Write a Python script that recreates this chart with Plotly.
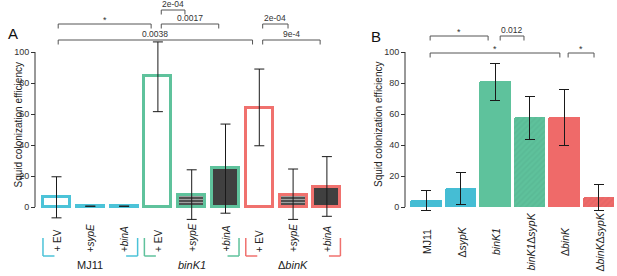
import plotly.graph_objects as go

# ---------------- data ----------------
a_labels = ["+ EV", "+<i>sypE</i>", "+<i>binA</i>",
            "+ EV", "+<i>sypE</i>", "+<i>binA</i>",
            "+ EV", "+<i>sypE</i>", "+<i>binA</i>"]
a_groups = ["MJ11", "<i>binK1</i>", "Δ<i>binK</i>"]
a_values = [6.5, 0.5, 0.5, 84.5, 8, 25, 64, 8, 13]
a_err_plus = [13, 0, 0, 22, 16, 28.5, 25, 16.5, 19.5]
a_err_minus = [13.5, 0, 0, 23, 16, 29, 24.5, 16, 19]
a_fill = ["white", "line", "line", "white", "dots", "dark", "white", "dots", "dark"]

b_labels = ["MJ11", "Δ<i>sypK</i>", "<i>binK1</i>", "<i>binK1</i>Δ<i>sypK</i>",
            "Δ<i>binK</i>", "Δ<i>binK</i>Δ<i>sypK</i>"]
b_values = [4.5, 12, 81, 58, 58, 6.5]
b_err_plus = [6, 10, 11.5, 13.5, 18, 8]
b_err_minus = [6.5, 10.5, 12.5, 14.5, 18.5, 8.5]
b_hatch = [False, False, False, True, False, True]

a_sig = [  # (i0, i1, level, label)
    (0.05, 2.8, 1, "*"),
    (3.1, 3.8, 0, "2e-04"),
    (3.1, 4.8, 1, "0.0017"),
    (0.05, 5.8, 2, "0.0038"),
    (6.1, 6.85, 1, "2e-04"),
    (6.1, 7.8, 2, "9e-4"),
]
b_sig = [
    (0.12, 1.8, 0, "*"),
    (2.15, 2.84, 0, "0.012"),
    (0.12, 3.88, 1, "*"),
    (4.12, 4.87, 1, "*"),
]

# ---------------- styling / geometry ----------------
W, H = 617, 276
CYAN, GREEN, RED = "#4CC3D8", "#5FC29C", "#F0716E"
CYAN_B, GREEN_B, RED_B = "#45BDD4", "#5EC29C", "#EF6A69"
DARK = "#404040"
GRAY = "#555555"
FONT = "Arial, Liberation Sans, Helvetica, sans-serif"
Y0PX, PPU = 207, 1.55      # pixel of y=0 and pixels per unit
XA0, XA_STEP = 56.5, 33.8  # panel A bar positions (px)
XB0, XB_STEP = 426.0, 34.5
SPLIT = 365


def yv(p):
    return (Y0PX - p) / PPU


def xa(p):
    return (p - XA0) / XA_STEP


def xb(p):
    return (p - XB0) / XB_STEP


group_colors = [CYAN, GREEN, RED]
a_colors = [group_colors[i // 3] for i in range(9)]

fig = go.Figure()

# Panel A bars
for i in range(9):
    kind = a_fill[i]
    marker = dict(line=dict(color=a_colors[i], width=3))
    if kind == "white":
        marker["color"] = "white"
    elif kind == "line":
        marker["color"] = a_colors[i]
    elif kind == "dark":
        marker["color"] = DARK
    else:
        marker["color"] = DARK
        marker["pattern"] = dict(shape="-", fgcolor="white", bgcolor=DARK,
                                 size=3, solidity=0.45)
    fig.add_trace(go.Bar(
        x=[i], y=[a_values[i]], width=0.8, marker=marker,
        error_y=dict(type="data", symmetric=False, array=[a_err_plus[i]],
                     arrayminus=[a_err_minus[i]], color="#1a1a1a",
                     thickness=1, width=5),
        xaxis="x", yaxis="y", showlegend=False, hoverinfo="skip"))

# Panel B bars
b_colors = [CYAN_B, CYAN_B, GREEN_B, GREEN_B, RED_B, RED_B]
for i in range(6):
    marker = dict(color=b_colors[i], line=dict(width=0), cornerradius=2)
    if b_hatch[i]:
        marker["pattern"] = dict(shape="/", fgcolor="rgba(0,0,0,0.08)",
                                 bgcolor=b_colors[i], size=4, solidity=0.4)
    fig.add_trace(go.Bar(
        x=[i], y=[b_values[i]], width=0.9, marker=marker,
        error_y=dict(type="data", symmetric=False, array=[b_err_plus[i]],
                     arrayminus=[b_err_minus[i]], color="#1a1a1a",
                     thickness=1, width=5),
        xaxis="x2", yaxis="y2", showlegend=False, hoverinfo="skip"))

shapes = []
annotations = []

# y axis lines (0..100)
for xpx, yref in [(35, "y"), (405, "y2")]:
    shapes.append(dict(type="line", xref="paper", yref=yref,
                       x0=xpx / W, x1=xpx / W, y0=0, y1=100,
                       line=dict(color="#333", width=1)))

# significance brackets
A_LEVEL_PX = [10, 24, 40]
B_LEVEL_PX = [36, 53]
for sig, xref, yref, levels in [(a_sig, "x", "y", A_LEVEL_PX),
                                 (b_sig, "x2", "y2", B_LEVEL_PX)]:
    for i0, i1, lvl, lab in sig:
        yl = levels[lvl]
        ytop, ybot = yv(yl), yv(yl + 4.5)
        for (x0, y0, x1, y1) in [(i0, ytop, i1, ytop), (i0, ytop, i0, ybot),
                                 (i1, ytop, i1, ybot)]:
            shapes.append(dict(type="line", xref=xref, yref=yref,
                               x0=x0, y0=y0, x1=x1, y1=y1,
                               line=dict(color=GRAY, width=1)))
        annotations.append(dict(
            x=(i0 + i1) / 2, y=ytop, xref=xref, yref=yref,
            text=lab, showarrow=False, yanchor="bottom",
            font=dict(size=8.5 if lab != "*" else 9, color="#333", family=FONT),
            yshift=-1 if lab != "*" else -3))

# Panel A x labels (rotated)
for i, lab in enumerate(a_labels):
    annotations.append(dict(x=i, y=yv(254), xref="x", yref="y", text=lab,
                            textangle=-90, showarrow=False, yanchor="bottom",
                            xanchor="center",
                            font=dict(size=10, color="#222", family=FONT)))

# Panel A group brackets and labels
for g in range(3):
    first, last = 3 * g, 3 * g + 2
    col = group_colors[g]
    ytop, ybot = yv(238), yv(256)
    lx0, lx1 = first - 0.4, first - 0.06
    rx0, rx1 = last + 0.06, last + 0.4
    for (x0, y0, x1, y1) in [(lx0, ytop, lx0, ybot), (lx0, ybot, lx1, ybot),
                             (rx1, ytop, rx1, ybot), (rx0, ybot, rx1, ybot)]:
        shapes.append(dict(type="line", xref="x", yref="y", x0=x0, y0=y0,
                           x1=x1, y1=y1, line=dict(color=col, width=1.5)))
    annotations.append(dict(x=first + 1, y=yv(265), xref="x", yref="y",
                            text=a_groups[g], showarrow=False,
                            font=dict(size=11, color="#222", family=FONT)))

# Panel B x labels (rotated, centred)
for i, lab in enumerate(b_labels):
    annotations.append(dict(x=i, y=yv(242), xref="x2", yref="y2", text=lab,
                            textangle=-90, showarrow=False, yanchor="middle",
                            xanchor="center", xshift=1,
                            font=dict(size=10.5, color="#222", family=FONT)))

# axis titles and panel letters
for xpx in (10, 378):
    annotations.append(dict(x=xpx / W, y=1 - 125 / H, xref="paper",
                            yref="paper", text="Squid colonization efficiency",
                            textangle=-90, showarrow=False,
                            font=dict(size=10, color="#222", family=FONT)))
annotations.append(dict(x=6 / W, y=1 - 23 / H, xref="paper", yref="paper",
                        text="A", showarrow=False,
                        font=dict(size=15, color="#111", family=FONT)))
annotations.append(dict(x=376 / W, y=1 - 26 / H, xref="paper", yref="paper",
                        text="B", showarrow=False,
                        font=dict(size=15, color="#111", family=FONT)))

yaxis_common = dict(range=[yv(H), yv(0)], domain=[0, 1], anchor="free",
                    tickvals=[0, 20, 40, 60, 80, 100], ticks="outside",
                    ticklen=4, tickcolor="#333", showline=False,
                    zeroline=False, showgrid=False,
                    tickfont=dict(size=9, color="#333", family=FONT))

fig.update_layout(
    width=W, height=H, margin=dict(l=0, r=0, t=0, b=0),
    plot_bgcolor="white", paper_bgcolor="white",
    bargap=0, barmode="overlay",
    xaxis=dict(domain=[0, SPLIT / W], range=[xa(0), xa(SPLIT)],
               visible=False),
    xaxis2=dict(domain=[SPLIT / W, 1], range=[xb(SPLIT), xb(W)],
                visible=False),
    yaxis=dict(position=35 / W, **yaxis_common),
    yaxis2=dict(position=405 / W, **yaxis_common),
    shapes=shapes, annotations=annotations,
    font=dict(family=FONT),
)

fig.write_html("out.html",
               config={"displayModeBar": False},
               post_script="document.body.style.margin='0';"
                           "document.body.style.overflow='hidden';")
